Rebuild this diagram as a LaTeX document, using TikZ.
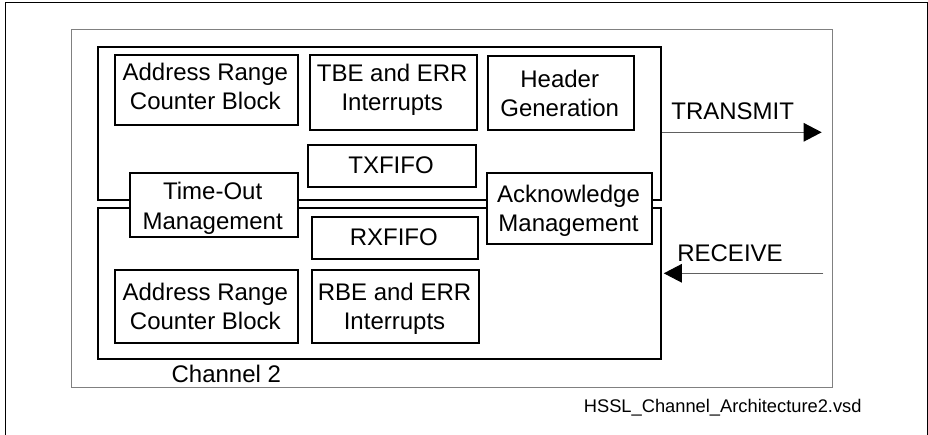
\documentclass[tikz,border=0pt]{standalone}
\usepackage{fontspec}
\setmainfont{Liberation Sans}
\usetikzlibrary{arrows.meta}
\definecolor{framegray}{HTML}{808080}
\definecolor{arrowgray}{HTML}{606060}
\begin{document}
\begin{tikzpicture}[x=1pt,y=-1pt,
  chan/.style={draw, line width=2.2pt, inner sep=0pt, anchor=north west},
  blk/.style={draw, line width=2pt, fill=white, inner sep=0pt, anchor=north west},
  lbl/.style={font=\fontsize{24}{29.4}\selectfont, align=center, inner sep=0pt, anchor=north},
  sig/.style={font=\fontsize{24}{29.4}\selectfont, inner sep=0pt, anchor=base},
  wire/.style={draw=arrowgray, line width=1pt, -{Triangle[length=18pt,width=18.5pt,color=black]}}]
\useasboundingbox (0,0) rectangle (928,435);
% page border (open at bottom)
\draw[line width=1pt] (5,435) -- (5,3) -- (927,3) -- (927,435);
% gray frame
\node[draw=framegray, line width=1pt, inner sep=0pt, anchor=north west,
      minimum width=761pt, minimum height=358pt] (frame) at (71,29) {};
% channel boxes
\node[chan, minimum width=563.3pt, minimum height=153pt] (ch1) at (96.7,46) {};
\node[chan, minimum width=563.3pt, minimum height=151.3pt] (ch2) at (96.7,206.7) {};
% inner blocks
\node[blk, minimum width=182.7pt, minimum height=70pt] (addr1) at (114,54.3) {};
\node[blk, minimum width=167pt, minimum height=75pt] (tbe) at (308.7,54.3) {};
\node[blk, minimum width=146pt, minimum height=74.3pt] (hdr) at (486.7,55) {};
\node[blk, minimum width=167.4pt, minimum height=42pt] (txf) at (307.3,144) {};
\node[blk, minimum width=168pt, minimum height=63.7pt] (tout) at (128.7,172.3) {};
\node[blk, minimum width=165pt, minimum height=71pt] (ack) at (486,172.3) {};
\node[blk, minimum width=166.3pt, minimum height=42.6pt] (rxf) at (310.7,215.7) {};
\node[blk, minimum width=182.7pt, minimum height=73pt] (addr2) at (114,268.7) {};
\node[blk, minimum width=167.6pt, minimum height=73pt] (rbe) at (310.7,268.7) {};
% labels
\node[lbl] (addr1t) at (205.3,62.8) {Address Range\\Counter Block};
\node[lbl] (tbet) at (392.2,64) {TBE and ERR\\Interrupts};
\node[lbl] (hdrt) at (559.7,70) {Header\\Generation};
\node[lbl] (txft) at (391,156.5) {TXFIFO};
\node[lbl] (toutt) at (212.7,182.3) {Time-Out\\Management};
\node[lbl] (ackt) at (568.5,185) {Acknowledge\\Management};
\node[lbl] (rxft) at (393.8,228.4) {RXFIFO};
\node[lbl] (addr2t) at (205.3,282.7) {Address Range\\Counter Block};
\node[lbl] (rbet) at (394.5,282.7) {RBE and ERR\\Interrupts};
\node[sig] (chname) at (226.3,382.5) {Channel 2};
% signals
\node[sig] (txlbl) at (732.7,120) {TRANSMIT};
\node[sig] (rxlbl) at (730,262) {RECEIVE};
\coordinate (txend) at (821.7,132.3);
\coordinate (rxstart) at (823.3,273.3);
\draw[wire] (ch1.east |- txend) -- (txend);
\draw[wire] (rxstart) -- ([xshift=1.6pt]ch2.east |- rxstart);
% file name
\node[font=\fontsize{18.3}{22}\selectfont, inner sep=0pt, anchor=base] (fname) at (722.7,412.3) {HSSL\_Channel\_Architecture2.vsd};
\end{tikzpicture}
\end{document}
